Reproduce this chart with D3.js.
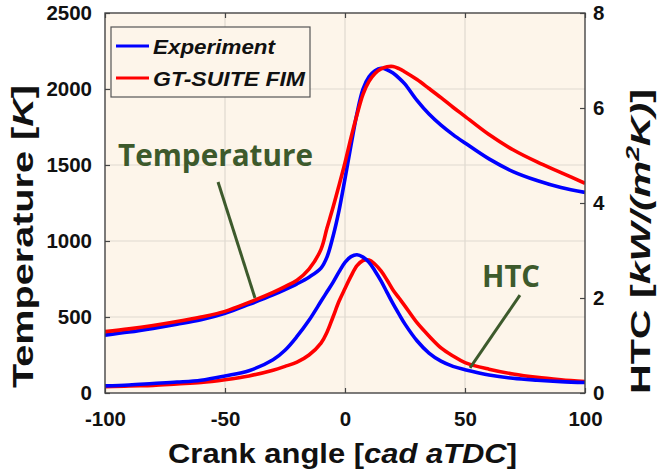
<!DOCTYPE html>
<html>
<head>
<meta charset="utf-8">
<script src="https://cdn.jsdelivr.net/npm/d3@7"></script>
<style>
  body { margin: 0; background: #fff; }
  svg { display: block; font-family: Arial, "Liberation Sans", sans-serif; }
</style>
</head>
<body>
<div class="chart"></div>
<script>
// crank angle grid [cad aTDC]
const crank = [-100, -90, -80, -70, -60, -50, -40, -30, -25, -20, -15, -10, -7.5, -5, -2.5,
  0, 2.5, 5, 7.5, 10, 12.5, 15, 17.5, 20, 22.5, 25, 30, 35, 40, 45, 50, 60, 70, 80, 90, 100];

// temperature [K]
const tempExp = [381, 401, 425, 452, 482, 525, 583, 645, 680, 718, 762, 822, 895, 1030, 1200,
  1410, 1630, 1840, 2000, 2080, 2120, 2136, 2127, 2105, 2072, 2032, 1925, 1835, 1762, 1700,
  1645, 1540, 1457, 1398, 1352, 1320];
const tempSim = [404, 422, 444, 470, 500, 537, 596, 662, 700, 742, 815, 945, 1085, 1220, 1365,
  1515, 1680, 1830, 1965, 2050, 2102, 2132, 2146, 2148, 2134, 2112, 2062, 2003, 1943, 1880,
  1820, 1700, 1600, 1520, 1450, 1380];

// heat transfer coefficient [kW/(m2K)]
const htcExp = [0.15, 0.17, 0.20, 0.23, 0.27, 0.36, 0.47, 0.70, 0.90, 1.19, 1.53, 1.93, 2.13, 2.33, 2.55,
  2.75, 2.87, 2.91, 2.86, 2.75, 2.57, 2.36, 2.12, 1.88, 1.66, 1.45, 1.10, 0.84, 0.67, 0.56,
  0.49, 0.38, 0.31, 0.27, 0.24, 0.22];
const htcSim = [0.13, 0.15, 0.16, 0.19, 0.22, 0.28, 0.36, 0.48, 0.56, 0.65, 0.80, 1.05, 1.28, 1.60, 1.93,
  2.20, 2.46, 2.68, 2.79, 2.80, 2.71, 2.57, 2.38, 2.17, 2.00, 1.83, 1.48, 1.20, 0.95, 0.78,
  0.64, 0.50, 0.40, 0.33, 0.28, 0.24];

const xTicks = [-100, -50, 0, 50, 100];
const tempTicks = [0, 500, 1000, 1500, 2000, 2500];
const htcTicks = [0, 2, 4, 6, 8];
const seriesNames = ['Experiment', 'GT-SUITE FIM'];

(function() {
  'use strict';

  const W = 657, H = 472,
        left = 105, right = 585, top = 13, bottom = 393,
        bg = '#fdf5ea',
        grid = '#e0d9cf',
        axisCol = '#454545',
        green = '#3d5a2c',
        blue = '#0000ff',
        red = '#ff0000';

  const svg = d3.select('.chart').append('svg')
    .attr('width', W)
    .attr('height', H);

  const x = d3.scaleLinear().domain([-100, 100]).range([left, right]),
        yT = d3.scaleLinear().domain([0, 2500]).range([bottom, top]),
        yH = d3.scaleLinear().domain([0, 8]).range([bottom, top]);

  // plot background
  svg.append('rect')
    .attr('x', left).attr('y', top)
    .attr('width', right - left).attr('height', bottom - top)
    .attr('fill', bg);

  // grid
  const g = svg.append('g');
  g.selectAll('.vgrid')
    .data(xTicks.slice(1, -1))
    .enter().append('line')
    .attr('x1', d => x(d)).attr('x2', d => x(d))
    .attr('y1', top).attr('y2', bottom)
    .attr('stroke', grid).attr('stroke-width', 1.2);
  g.selectAll('.hgrid')
    .data(tempTicks.slice(1, -1))
    .enter().append('line')
    .attr('y1', d => yT(d)).attr('y2', d => yT(d))
    .attr('x1', left).attr('x2', right)
    .attr('stroke', grid).attr('stroke-width', 1.2);

  svg.append('clipPath').attr('id', 'clip')
    .append('rect')
    .attr('x', left).attr('y', top)
    .attr('width', right - left).attr('height', bottom - top);

  const curves = svg.append('g').attr('clip-path', 'url(#clip)');

  const lineT = d3.line().x((d, i) => x(crank[i])).y(d => yT(d)).curve(d3.curveCatmullRom.alpha(0.5)),
        lineH = d3.line().x((d, i) => x(crank[i])).y(d => yH(d)).curve(d3.curveCatmullRom.alpha(0.5));

  [[htcSim, lineH, red], [htcExp, lineH, blue], [tempExp, lineT, blue], [tempSim, lineT, red]]
    .forEach(s => {
      curves.append('path')
        .datum(s[0])
        .attr('d', s[1])
        .attr('fill', 'none')
        .attr('stroke', s[2])
        .attr('stroke-width', 3.6)
        .attr('stroke-linejoin', 'round');
    });

  // axes (ticks inward)
  const styleAxis = sel => {
    sel.select('.domain').remove();
    sel.selectAll('line').attr('stroke', axisCol).attr('stroke-width', 1.2);
    sel.selectAll('text')
      .attr('font-size', 20.5)
      .attr('font-weight', 'bold')
      .attr('font-family', 'Arial, "Liberation Sans", sans-serif')
      .attr('fill', '#111');
  };
  const fmt = d => String(d);

  svg.append('g')
    .attr('transform', `translate(0,${bottom})`)
    .call(d3.axisBottom(x).tickValues(xTicks).tickSize(-5).tickPadding(18).tickFormat(fmt))
    .call(styleAxis);

  svg.append('g')
    .attr('transform', `translate(0,${top})`)
    .call(d3.axisTop(x).tickValues(xTicks).tickSize(-5).tickFormat(''))
    .call(styleAxis);

  svg.append('g')
    .attr('transform', `translate(${left},0)`)
    .call(d3.axisLeft(yT).tickValues(tempTicks).tickSize(-5).tickPadding(13).tickFormat(fmt))
    .call(styleAxis);

  svg.append('g')
    .attr('transform', `translate(${right},0)`)
    .call(d3.axisRight(yH).tickValues(htcTicks).tickSize(-5).tickPadding(8).tickFormat(fmt))
    .call(styleAxis);

  // frame
  svg.append('rect')
    .attr('x', left).attr('y', top)
    .attr('width', right - left).attr('height', bottom - top)
    .attr('fill', 'none')
    .attr('stroke', axisCol)
    .attr('stroke-width', 1.4);

  // axis titles
  const fit = (sel, len) => sel.attr('textLength', len).attr('lengthAdjust', 'spacingAndGlyphs');

  const xl = svg.append('text')
    .attr('x', (168 + 517) / 2).attr('y', 463)
    .attr('text-anchor', 'middle')
    .attr('font-size', 28).attr('font-weight', 'bold').attr('fill', '#111');
  xl.append('tspan').text('Crank angle [');
  xl.append('tspan').attr('font-style', 'italic').text('cad aTDC');
  xl.append('tspan').text(']');
  fit(xl, 349);

  const yl = svg.append('text')
    .attr('transform', `translate(33,${(85 + 388) / 2}) rotate(-90)`)
    .attr('text-anchor', 'middle')
    .attr('font-size', 29).attr('font-weight', 'bold').attr('fill', '#111');
  yl.append('tspan').text('Temperature [');
  yl.append('tspan').attr('font-style', 'italic').text('K');
  yl.append('tspan').text(']');
  fit(yl, 303);

  const yr = svg.append('text')
    .attr('transform', `translate(650,${(88 + 395) / 2}) rotate(-90)`)
    .attr('text-anchor', 'middle')
    .attr('font-size', 28).attr('font-weight', 'bold').attr('fill', '#111');
  yr.append('tspan').text('HTC [');
  yr.append('tspan').attr('font-style', 'italic').text('kW/(m');
  yr.append('tspan').attr('font-style', 'italic').attr('font-size', 18).attr('dy', -11).text('2');
  yr.append('tspan').attr('font-style', 'italic').attr('dy', 11).text('K)');
  yr.append('tspan').text(']');
  fit(yr, 305);

  // legend
  const lg = svg.append('g');
  lg.append('rect')
    .attr('x', 111).attr('y', 27)
    .attr('width', 199).attr('height', 70)
    .attr('fill', bg)
    .attr('stroke', '#555')
    .attr('stroke-width', 1.2);
  const lw = [122, 152];
  seriesNames.forEach((name, i) => {
    const yy = 46 + i * 32;
    lg.append('line')
      .attr('x1', 116).attr('x2', 149)
      .attr('y1', yy).attr('y2', yy)
      .attr('stroke', i === 0 ? blue : red)
      .attr('stroke-width', 3.2);
    lg.append('text')
      .attr('x', 153).attr('y', yy + 7.5)
      .attr('font-size', 19.5)
      .attr('font-weight', 'bold')
      .attr('font-style', 'italic')
      .attr('fill', '#111')
      .text(name)
      .call(fit, lw[i]);
  });

  // annotations
  const ann = svg.append('g');
  ann.append('line')
    .attr('x1', x(-52.9)).attr('y1', yT(1388))
    .attr('x2', x(-37.5)).attr('y2', yT(625))
    .attr('stroke', green).attr('stroke-width', 3);
  ann.append('text')
    .attr('x', 118).attr('y', 166)
    .attr('font-family', '"Open Sans", sans-serif')
    .attr('font-size', 31).attr('font-weight', 'bold')
    .attr('fill', green)
    .text('Temperature')
    .call(fit, 195);

  ann.append('line')
    .attr('x1', x(72.9)).attr('y1', yH(2.06))
    .attr('x2', x(52.1)).attr('y2', yH(0.53))
    .attr('stroke', green).attr('stroke-width', 3);
  ann.append('text')
    .attr('x', 482).attr('y', 287)
    .attr('font-family', '"Open Sans", sans-serif')
    .attr('font-size', 30).attr('font-weight', 'bold')
    .attr('fill', green)
    .text('HTC')
    .call(fit, 58);
})();
</script>
</body>
</html>
